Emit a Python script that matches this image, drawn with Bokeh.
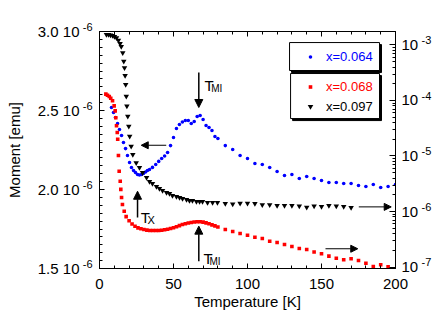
from bokeh.plotting import figure
from bokeh.models import (Range1d, LogScale, LinearAxis, LogAxis, SingleIntervalTicker, FixedTicker,
                          CustomJSTickFormatter, Legend, LegendItem, BoxAnnotation, Arrow, NormalHead, Label)
from bokeh.embed import file_html
from bokeh.resources import INLINE

# ---------------- data ----------------
# x = 0.064 (left axis, emu, values in units of 1e-6)
blue_T = [8.1, 9.5, 10.8, 12.2, 13.5, 14.9, 16.2, 17.6, 18.9, 20.3, 21.6, 23.0, 24.3, 25.7, 27.0,
          28.4, 29.7, 31.1, 32.4, 33.8, 35.8, 38.0, 40.0, 42.0, 44.0, 46.0, 48.0, 50.0, 52.0, 54.0,
          56.0, 58.0, 60.0, 62.0, 64.0, 66.0, 68.0, 70.0, 72.0, 74.0, 76.0, 78.0, 80.0,
          85, 90, 95, 100, 105, 110, 115, 120, 125, 130, 135, 140, 145, 150, 155, 160, 165, 170,
          175, 180, 185, 190, 195, 200]
blue_M = [2.519, 2.487, 2.456, 2.418, 2.380, 2.342, 2.297, 2.259, 2.215, 2.171, 2.139, 2.120, 2.108,
          2.095, 2.092, 2.095, 2.101, 2.111, 2.120, 2.127, 2.140, 2.158, 2.178, 2.196, 2.212, 2.234,
          2.278, 2.329, 2.386, 2.411, 2.427, 2.437, 2.437, 2.418, 2.430, 2.462, 2.468, 2.443, 2.405,
          2.392, 2.373, 2.335, 2.323,
          2.278, 2.253, 2.215, 2.196, 2.165, 2.158, 2.139, 2.114, 2.089, 2.095, 2.070, 2.082, 2.070,
          2.057, 2.044, 2.044, 2.038, 2.038, 2.025, 2.019, 2.032, 2.013, 2.019, 2.032]

# x = 0.068 (right log axis, emu)
red_T = [4.3, 5.4, 6.6, 7.6, 8.8, 9.9, 10.6, 11.0, 11.5, 12.0, 12.3, 12.8, 13.3, 14.0, 14.4, 14.9,
         15.5, 16.7,
         18, 20, 22, 24, 26, 28, 30, 32, 34, 36, 38, 40, 42, 44, 46, 48, 50, 52, 54, 56, 58, 60,
         62, 64, 66, 68, 70, 72, 74, 76, 78, 80,
         85, 90, 95, 100, 105, 110, 115, 120, 125, 130, 135, 140, 145, 150, 155, 160, 165, 170,
         175, 180, 185, 190, 195]
red_M = [1.30e-4, 1.24e-4, 1.18e-4, 1.10e-4, 9.9e-5, 8.0e-5, 6.5e-5, 4.9e-5, 3.5e-5, 2.65e-5,
         2.0e-5, 1.02e-5, 5.3e-6, 3.5e-6, 2.5e-6, 1.79e-6, 1.34e-6, 1.01e-6,
         8.1e-7, 6.8e-7, 5.96e-7, 5.43e-7, 5.08e-7, 4.88e-7, 4.74e-7, 4.62e-7, 4.56e-7, 4.55e-7,
         4.55e-7, 4.56e-7, 4.60e-7, 4.68e-7, 4.80e-7, 4.94e-7, 5.11e-7, 5.32e-7, 5.57e-7, 5.83e-7,
         6.03e-7, 6.21e-7, 6.34e-7, 6.47e-7, 6.52e-7, 6.52e-7, 6.44e-7, 6.25e-7, 6.03e-7, 5.75e-7,
         5.52e-7, 5.26e-7,
         4.74e-7, 4.36e-7, 4.01e-7, 3.74e-7, 3.44e-7, 3.26e-7, 2.92e-7, 2.76e-7, 2.54e-7, 2.34e-7,
         2.15e-7, 2.07e-7, 1.86e-7, 1.73e-7, 1.57e-7, 1.44e-7, 1.35e-7, 1.41e-7, 1.31e-7, 1.17e-7,
         1.02e-7, 1.10e-7, 1.01e-7]

# x = 0.097 (right log axis, emu)
black_T = [4.7, 6.1, 7.4, 8.8, 10.1, 11.5, 12.8, 13.9, 14.7, 15.7, 16.4, 16.9, 17.3, 17.7, 18.1,
           18.5, 19.1, 19.8, 20.4, 21.4, 22.5, 24.8, 27.0, 29.1, 31.8, 33.8, 35.8, 38.5, 40.5,
           42.6, 45.3, 47.3, 49.3, 52.0, 54.1, 56.1, 58.8, 60.8, 62.8, 65.5, 67.6, 69.6, 73.0,
           76.4, 79.7,
           85, 90, 95, 100, 105, 110, 115, 120, 125, 130, 135, 140, 145, 150, 155, 160, 165, 170]
black_M = [1.545e-3, 1.545e-3, 1.51e-3, 1.48e-3, 1.42e-3, 1.34e-3, 1.21e-3, 1.06e-3, 9.4e-4,
           7.23e-4, 5.1e-4, 3.88e-4, 2.82e-4, 1.94e-4, 1.19e-4, 7.9e-5, 5.2e-5, 3.44e-5, 2.27e-5,
           1.50e-5, 1.06e-5, 7.5e-6, 6.2e-6, 5.0e-6, 4.1e-6, 3.47e-6, 3.2e-6, 2.82e-6, 2.6e-6,
           2.39e-6, 2.2e-6, 2.11e-6, 1.94e-6, 1.86e-6, 1.79e-6, 1.71e-6, 1.64e-6, 1.58e-6,
           1.58e-6, 1.51e-6, 1.51e-6, 1.51e-6, 1.45e-6, 1.45e-6, 1.45e-6,
           1.39e-6, 1.36e-6, 1.41e-6, 1.41e-6, 1.39e-6, 1.32e-6, 1.32e-6, 1.28e-6, 1.28e-6,
           1.28e-6, 1.25e-6, 1.19e-6, 1.25e-6, 1.23e-6, 1.28e-6, 1.25e-6, 1.23e-6, 1.18e-6]

series_labels = ["x=0.064", "x=0.068", "x=0.097"]
left_ticks = [1.5e-6, 2.0e-6, 2.5e-6, 3.0e-6]
right_ticks = [1e-7, 1e-6, 1e-5, 1e-4, 1e-3]

# ---------------- figure ----------------
FONT = "Liberation Sans"
BLUE = "#0000ff"
RED = "#ff0000"

p = figure(frame_width=296, frame_height=237, output_backend="svg", toolbar_location=None,
           x_range=Range1d(0, 200), y_range=Range1d(1.5e-6, 3.0e-6), y_axis_location=None,
           min_border_left=99, min_border_right=34, min_border_top=31, min_border_bottom=50,
           x_axis_label="Temperature [K]")
p.grid.visible = False
p.outline_line_color = "black"
p.outline_line_alpha = 1.0
p.background_fill_color = "white"
p.border_fill_color = "white"

p.extra_y_ranges = {"log": Range1d(9.4e-8, 1.75e-3)}
p.extra_y_scales = {"log": LogScale()}


def style(ax, tick_in=5, minor_in=3, size="15px"):
    ax.axis_line_color = "black"
    ax.major_tick_line_color = "black"
    ax.minor_tick_line_color = "black"
    ax.major_tick_in = tick_in
    ax.major_tick_out = 0
    ax.minor_tick_in = minor_in
    ax.minor_tick_out = 0
    ax.major_label_text_font = FONT
    ax.major_label_text_font_size = size
    ax.major_label_text_color = "black"
    ax.axis_label_text_font = FONT
    ax.axis_label_text_font_size = "15px"
    ax.axis_label_text_font_style = "normal"
    ax.axis_label_text_color = "black"


def bare(ax):
    # label-only axis: no line, no ticks
    ax.axis_line_color = None
    ax.major_tick_line_color = None
    ax.minor_tick_line_color = None
    ax.major_tick_in = 0
    ax.major_tick_out = 0
    ax.minor_tick_in = 0
    ax.minor_tick_out = 0


xa = p.xaxis[0]
xa.ticker = SingleIntervalTicker(interval=50, num_minor_ticks=5)
style(xa)
xa.major_label_standoff = 10
xa.axis_label_standoff = 1

left_minor = [left_ticks[0] + 0.05e-6 * i for i in range(31)]
log_minor = [m * 10.0 ** e for e in range(-8, -2) for m in range(2, 10)]

# exponent written as a raised (superscript) line: the empty second line lifts it
SUP_LEFT = "return '-6\\n ';"
SUP_RIGHT = "return String(Math.round(Math.log10(tick))) + '\\n ';"

# left: inner axis (line, ticks, exponent), outer axis (mantissa "x.x 10" + title)
ya_exp = LinearAxis(ticker=FixedTicker(ticks=left_ticks, minor_ticks=left_minor),
                    formatter=CustomJSTickFormatter(code=SUP_LEFT))
style(ya_exp, size="11px")
ya_exp.major_label_standoff = 7
ya_exp.major_label_text_line_height = 0.8
p.add_layout(ya_exp, "left")

ya = LinearAxis(ticker=FixedTicker(ticks=left_ticks),
                formatter=CustomJSTickFormatter(code="return (tick*1e6).toFixed(1) + ' 10';"),
                axis_label="Moment [emu]")
style(ya)
bare(ya)
ya.major_label_standoff = 0
ya.axis_label_standoff = 12
p.add_layout(ya, "left")

top = LinearAxis(ticker=SingleIntervalTicker(interval=50, num_minor_ticks=5),
                 formatter=CustomJSTickFormatter(code="return '';"))
style(top)
p.add_layout(top, "above")

# right: inner log axis (line, ticks, "10"), outer axis (exponent)
ra = LogAxis(y_range_name="log", ticker=FixedTicker(ticks=right_ticks, minor_ticks=log_minor),
             formatter=CustomJSTickFormatter(code="return '10';"))
style(ra, tick_in=6, minor_in=3)
ra.major_label_standoff = 6
p.add_layout(ra, "right")

ra_exp = LogAxis(y_range_name="log", ticker=FixedTicker(ticks=right_ticks),
                 formatter=CustomJSTickFormatter(code=SUP_RIGHT))
style(ra_exp, size="11px")
bare(ra_exp)
ra_exp.major_label_standoff = 0
ra_exp.major_label_text_line_height = 0.8
p.add_layout(ra_exp, "right")

# ---------------- data glyphs ----------------
r_blue = p.scatter(blue_T, [m * 1e-6 for m in blue_M], marker="circle", size=3.6,
                   fill_color=BLUE, line_color=None)
r_red = p.scatter(red_T, red_M, marker="square", size=3.6, fill_color=RED, line_color=None,
                  y_range_name="log")
r_black = p.scatter(black_T, black_M, marker="inverted_triangle", size=5.5, fill_color="black",
                    line_color=None, y_range_name="log")

# ---------------- legend frames (with drop shadow) ----------------
def frame(left, right, top_, bottom):
    p.add_layout(BoxAnnotation(left=left + 1.35, right=right + 1.35, top=top_ - 0.0127e-6,
                               bottom=bottom - 0.0127e-6, fill_color="black", fill_alpha=1,
                               line_color="black", line_alpha=1))
    p.add_layout(BoxAnnotation(left=left, right=right, top=top_, bottom=bottom,
                               fill_color="white", fill_alpha=1, line_color="black",
                               line_alpha=1, line_width=1))


frame(128.4, 189.2, 2.930e-6, 2.753e-6)
frame(129.1, 189.2, 2.734e-6, 2.449e-6)

# legend marker size = 0.4 * min(glyph_width, glyph_height)
for rend, lab, col, loc, gh in [(r_blue, series_labels[0], BLUE, (201, 202), 9),
                                (r_red, series_labels[1], RED, (201, 172), 9),
                                (r_black, series_labels[2], "black", (201, 152), 14)]:
    lg = Legend(items=[LegendItem(label=lab, renderers=[rend])], location=loc,
                padding=0, margin=0, spacing=0, border_line_color=None,
                background_fill_alpha=0, label_text_color=col, label_text_font=FONT,
                label_text_font_size="13px", glyph_width=20, glyph_height=gh,
                label_standoff=6, label_height=20)
    p.add_layout(lg)

# ---------------- arrows ----------------
def arrow(x0, y0, x1, y1, size, width):
    p.add_layout(Arrow(end=NormalHead(size=size, fill_color="black", line_color="black"),
                       x_start=x0, y_start=y0, x_end=x1, y_end=y1,
                       line_color="black", line_width=width))


arrow(67.1, 2.741e-6, 67.1, 2.519e-6, 8, 1.5)   # T_MI (x=0.064)
arrow(67.1, 1.546e-6, 67.1, 1.768e-6, 8, 1.5)   # T_MI (x=0.068)
arrow(25.7, 1.823e-6, 25.7, 1.989e-6, 8, 1.5)   # T_X
arrow(45.1, 2.280e-6, 28.2, 2.280e-6, 7, 1)     # blue -> left axis
arrow(175.2, 1.890e-6, 197.1, 1.890e-6, 7, 1)   # black -> right axis
arrow(152.7, 1.625e-6, 174.5, 1.625e-6, 7, 1)   # red -> right axis


def lbl(x, y, text, size):
    p.add_layout(Label(x=x, y=y, text=text, text_font=FONT, text_font_size=size,
                       text_color="black", text_baseline="alphabetic", text_align="left"))


lbl(70.9, 2.658e-6, "T", "15px")
lbl(75.5, 2.637e-6, "MI", "10px")
lbl(70.3, 1.561e-6, "T", "15px")
lbl(74.3, 1.546e-6, "MI", "10px")
lbl(27.9, 1.821e-6, "T", "15px")
lbl(32.4, 1.804e-6, "X", "11px")

open("out.html", "w").write(file_html(p, INLINE))
